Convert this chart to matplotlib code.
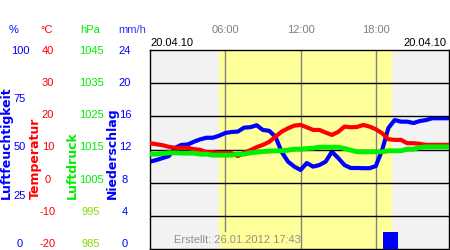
import numpy as np
import matplotlib.pyplot as plt

# half-hourly readings, 20.04.10
hours = list(np.arange(0, 24, 0.5)) + [23.83]
humidity = [43.9, 44.7, 45.7, 46.7, 50.8, 52.3, 52.5, 53.9, 55.1, 55.9,
            55.9, 56.9, 58.3, 58.8, 59.0, 61.0, 61.2, 62.2, 59.8, 59.4,
            56.4, 48.7, 43.9, 41.4, 39.7, 43.2, 41.4, 42.2, 43.9, 48.9,
            45.7, 42.2, 40.7, 40.7, 40.6, 40.6, 41.7, 49.7, 60.8, 64.8,
            64.0, 64.0, 63.3, 64.3, 64.8, 65.7, 65.7, 65.7, 65.7]
temperature = [11.9, 11.6, 11.3, 10.8, 10.5, 10.5, 10.5, 10.1, 9.9, 9.2,
               9.2, 8.9, 8.9, 8.9, 8.0, 9.0, 9.8, 10.7, 11.4, 12.3,
               13.9, 15.4, 16.4, 17.2, 17.4, 16.7, 15.9, 15.9, 15.1, 14.4,
               15.3, 16.9, 16.7, 16.8, 17.4, 16.9, 16.1, 14.9, 13.1, 12.9,
               12.9, 11.9, 11.9, 11.7, 11.4, 11.4, 11.4, 11.4, 11.4]
pressure = [1013.6, 1013.6, 1013.8, 1014.0, 1014.0, 1013.9, 1013.9, 1013.9, 1013.6, 1013.6,
            1013.3, 1013.3, 1013.3, 1013.3, 1013.6, 1013.6, 1014.0, 1014.2, 1014.4, 1014.5,
            1014.6, 1014.6, 1014.8, 1015.1, 1015.1, 1015.3, 1015.4, 1015.7, 1015.7, 1015.7,
            1015.7, 1015.3, 1014.8, 1014.3, 1014.3, 1014.3, 1014.3, 1014.3, 1014.6, 1014.6,
            1014.6, 1015.1, 1015.1, 1015.6, 1015.8, 1015.8, 1015.8, 1015.8, 1015.8]
rain_start = [18.55]
rain_width = [1.25]
rain = [2.1]

sunrise, sunset = 5.5, 19.25
time_ticks = [6, 12, 18]
time_labels = ["06:00", "12:00", "18:00"]

hum_labels = ["100", "75", "50", "25", "0"]
temp_labels = ["40", "30", "20", "10", "0", "-10", "-20"]
pres_labels = ["1045", "1035", "1025", "1015", "1005", "995", "985"]
rain_labels = ["24", "20", "16", "12", "8", "4", "0"]

W, H = 450, 250
fig = plt.figure(figsize=(4.5, 2.5), dpi=100)
ax = fig.add_axes([150 / W, 1 / H, 299 / W, 199 / H])
ax.set_facecolor("#f2f2f2")
ax.set_xlim(0, 23.83)
ax.set_ylim(0, 100)
ax.set_xticks([])
ax.set_yticks([])
for s in ax.spines.values():
    s.set_color("black")
    s.set_linewidth(1)
    s.set_zorder(10)

ax.axvspan(sunrise, sunset, color="#ffff99", zorder=0, lw=0)
for t in time_ticks:
    ax.axvline(t, ymin=0.09 if t == 6 else 0, color="#808080", lw=1, zorder=1)

def twin(lo, hi):
    a = ax.twinx()
    a.set_ylim(lo, hi)
    a.set_yticks([])
    a.axis("off")
    return a

ax_t = twin(-20, 40)
ax_p = twin(985, 1045)
ax_r = twin(0, 24)

for v in [-10, 0, 10, 20, 30]:
    ax_t.axhline(v, color="black", lw=1, zorder=2)

ax_r.bar(rain_start, rain, width=rain_width, align="edge", color="#0000ff", zorder=3)
ax_p.plot(hours, pressure, color="#00ee00", lw=3.5, zorder=4)
ax_t.plot(hours, temperature, color="#ff0000", lw=3, zorder=5)
ax.plot(hours, humidity, color="#0000ff", lw=3, zorder=6)

ax.text(0.08, 0.045, "Erstellt: 26.01.2012 17:43", transform=ax.transAxes,
        family="Liberation Sans", fontsize=8, color="#909090", va="center", zorder=11)

# top labels
for t, lab in zip(time_ticks, time_labels):
    x = ax.transData.transform((t, 0))[0] / W
    fig.text(x, 1 - 30 / H, lab, ha="center", va="center",
             family="Liberation Sans", fontsize=8, color="#808080")
fig.text(150 / W, 1 - 43 / H, "20.04.10", ha="left", va="center",
         family="Liberation Sans", fontsize=8, color="black")
fig.text(446 / W, 1 - 43 / H, "20.04.10", ha="right", va="center",
         family="Liberation Sans", fontsize=8, color="black")

# left side scales
def column(x, labels, colors):
    ys = np.linspace(50.7, 244.3, len(labels))
    for y, lab, c in zip(ys, labels, colors):
        fig.text(x / W, 1 - y / H, lab, ha="center", va="center",
                 family="Liberation Sans", fontsize=8, color=c)

fig.text(14 / W, 1 - 30 / H, "%", ha="center", va="center", family="Liberation Sans", fontsize=8, color="#0000ff")
fig.text(47 / W, 1 - 30 / H, "°C", ha="center", va="center", family="Liberation Sans", fontsize=8, color="#ff0000")
fig.text(90 / W, 1 - 30 / H, "hPa", ha="center", va="center", family="Liberation Sans", fontsize=8, color="#00ee00")
fig.text(132 / W, 1 - 30 / H, "mm/h", ha="center", va="center", family="Liberation Sans", fontsize=8, color="#3333ff")

column(20, hum_labels, ["#0000ff"] * 5)
column(48, temp_labels, ["#ff0000"] * 7)
column(91, pres_labels, ["#00ee00"] * 5 + ["#88dd00"] * 2)
column(125, rain_labels, ["#0000ff"] * 7)

for x, lab, c in [(6, "Luftfeuchtigkeit", "#0000ff"), (35, "Temperatur", "#ff0000"),
                  (72, "Luftdruck", "#00ee00"), (112, "Niederschlag", "#0000ff")]:
    fig.text(x / W, 1 - 199 / H, lab, rotation=90, ha="center", va="bottom",
             fontsize=9, fontweight="bold", color=c)

fig.savefig("out.png", dpi=100)
